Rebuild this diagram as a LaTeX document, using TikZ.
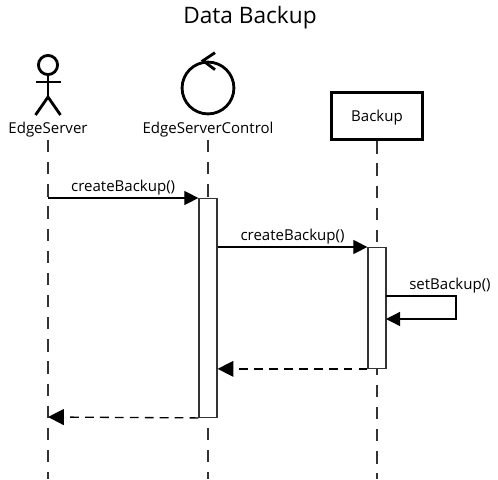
\documentclass[tikz,border=0pt]{standalone}
\usepackage{fontspec}
\setmainfont{Open Sans}
\usetikzlibrary{arrows.meta,positioning,calc}
\definecolor{Ink}{HTML}{000000}
\definecolor{Life}{HTML}{333333}
\begin{document}
\begin{tikzpicture}[font=\fontsize{8.55pt}{10pt}\selectfont,every node/.style={text=Ink},life/.style={draw=Life,line width=0.8pt,dash pattern=on 7pt off 5.6pt},figure/.style={draw=Ink,line width=1.6pt},classbox/.style={draw=Ink,line width=1.6pt,fill=white,minimum width=51.6pt,minimum height=27.2pt,inner sep=0pt,text depth=0.5pt},activation/.style={draw=Life,line width=0.75pt,fill=white,minimum width=10.2pt,inner sep=0pt},caption/.style={inner sep=0pt},msg/.style={draw=Ink,line width=0.75pt,-{Triangle[length=8pt,width=8pt]}},reply/.style={draw=Ink,line width=0.75pt,dash pattern=on 5pt off 3.5pt,-{Triangle[length=9pt,width=9pt]}}]
\path[use as bounding box] (0,0) rectangle (9.96,9.58);
\node[caption,font=\fontsize{12.9pt}{15pt}\selectfont] (title) at (5,9.22) {Data Backup};
\def\xactor{0.96}\def\xcontrol{4.16}\def\xbackup{7.54}
% heads
\node[figure,circle,minimum size=10.9pt,inner sep=0pt] (head) at (\xactor,8.28) {};
\coordinate (hip) at (\xactor,7.64);\coordinate (armL) at (\xactor-0.25,7.94);\coordinate (armR) at (\xactor+0.25,7.94);\coordinate (legL) at (\xactor-0.25,7.28);\coordinate (legR) at (\xactor+0.25,7.28);
\draw[figure] (head.south) -- (hip);\draw[figure] (armL) -- (armR);\draw[figure] (legL) -- (hip) -- (legR);
\node[caption] (actor) at (\xactor,6.99) {EdgeServer};
\node[figure,circle,minimum size=29.5pt,inner sep=0pt] (control) at (\xcontrol,7.82) {};
\coordinate (tipA) at ($(control.north)+(0.14,0.16)$);\coordinate (tipB) at ($(control.north)+(-0.1,0)$);\coordinate (tipC) at ($(control.north)+(0.14,-0.18)$);
\draw[figure] (tipA) -- (tipB) -- (tipC);
\node[caption] (controlname) at (\xcontrol,6.99) {EdgeServerControl};
\node[classbox] (backup) at (\xbackup,7.26) {Backup};
% lifelines
\coordinate (endA) at (\xactor,0);\coordinate (endB) at (\xcontrol,0);\coordinate (endC) at (\xbackup,0);\coordinate (startA) at (\xactor,6.78);\coordinate (startB) at (\xcontrol,6.78);
\draw[life] (startA) -- (endA);\draw[life] (startB) -- (endB);\draw[life] (backup.south) -- (endC);
% bars
\node[activation,minimum height=124.4pt,anchor=north] (barB) at (\xcontrol,5.62) {};
\node[activation,minimum height=68.6pt,anchor=north] (barC) at (\xbackup,4.64) {};
% messages
\coordinate (fromA) at (\xactor,5.62);\coordinate (toA) at (\xactor,1.24);\coordinate (selfA) at (\xbackup+0.18,3.66);\coordinate (selfB) at (9.12,3.66);\coordinate (selfC) at (9.12,3.2);\coordinate (selfD) at (\xbackup+0.18,3.2);
\draw[msg] (fromA) -- (barB.north west) node[caption,midway,above=1.5pt] (create1) {createBackup()};
\draw[msg] (barB.east |- barC.north) -- (barC.north west) node[caption,midway,above=1.5pt] (create2) {createBackup()};
\draw[msg] (selfA) -- (selfB) -- (selfC) -- (selfD);
\node[caption,above=1.5pt of selfB,xshift=-0.12cm] (setname) {setBackup()};
\draw[reply] (barC.south west) -- (barC.south west -| barB.east);
\draw[reply] (barB.south west) -- (toA);
\end{tikzpicture}
\end{document}
